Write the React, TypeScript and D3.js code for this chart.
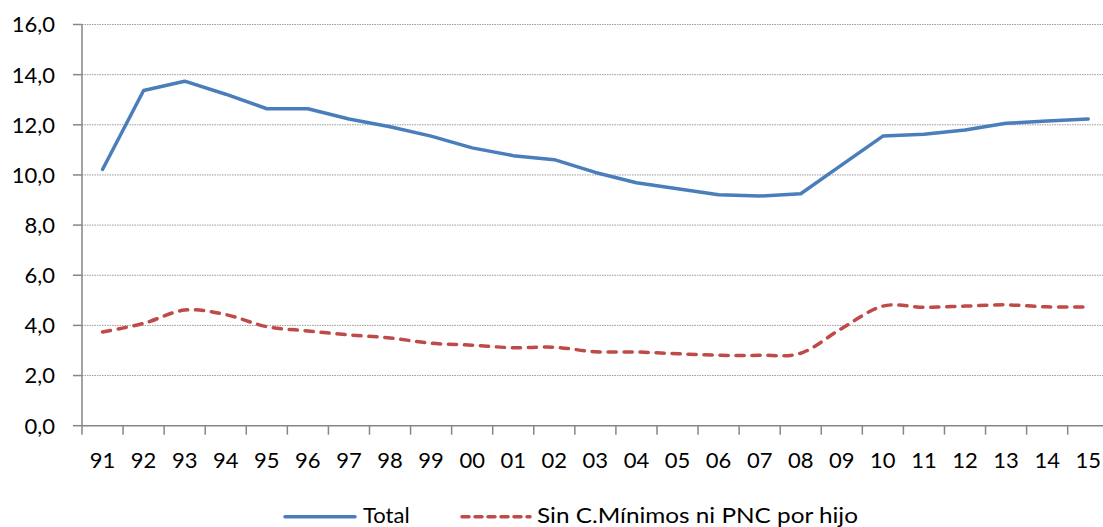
import React from "react";
import * as d3 from "d3";

// Years (two-digit labels) along the category axis
const years = [
  "91", "92", "93", "94", "95", "96", "97", "98", "99", "00", "01", "02", "03",
  "04", "05", "06", "07", "08", "09", "10", "11", "12", "13", "14", "15",
];

// Series values
const total = [
  10.22, 13.37, 13.74, 13.22, 12.64, 12.64, 12.23, 11.92, 11.55, 11.08, 10.77,
  10.61, 10.1, 9.69, 9.45, 9.21, 9.16, 9.25, 10.4, 11.55, 11.62, 11.79, 12.06,
  12.15, 12.23,
];
const sinMinimos = [
  3.74, 4.08, 4.61, 4.43, 3.95, 3.78, 3.62, 3.5, 3.29, 3.21, 3.11, 3.13, 2.95,
  2.94, 2.87, 2.81, 2.81, 2.89, 3.88, 4.77, 4.72, 4.77, 4.82, 4.74, 4.74,
];

// Value-axis ticks
const yTicks = [0, 2, 4, 6, 8, 10, 12, 14, 16];

const seriesNames = ["Total", "Sin C.Mínimos ni PNC por hijo"];

const W = 1103;
const H = 527;
const FONT = "Lato, 'Open Sans', sans-serif";
const BLUE = "#4A7EBB";
const RED = "#BE4B48";
const AXIS = "#868686";

export default function App() {
  const left = 82;
  const bandW = 41.07;
  const x = d3
    .scaleBand<string>()
    .domain(years)
    .range([left, left + bandW * years.length])
    .paddingInner(0)
    .paddingOuter(0);
  const y = d3.scaleLinear().domain([0, 16]).range([425.7, 24.5]);

  const cx = (d: string) => (x(d) as number) + x.bandwidth() / 2;

  const lineStraight = d3
    .line<number>()
    .x((_, i) => cx(years[i]))
    .y((v) => y(v));
  const lineSmooth = d3
    .line<number>()
    .x((_, i) => cx(years[i]))
    .y((v) => y(v))
    .curve(d3.curveCatmullRom.alpha(0));

  const fmt = (v: number) => v.toFixed(1).replace(".", ",");
  const x0 = y(0);
  const boundaries = d3.range(years.length + 1).map((i) => left + i * bandW);

  return (
    <svg
      width={W}
      height={H}
      style={{ position: "absolute", left: 0, top: 0, background: "#fff" }}
      fontFamily={FONT}
    >
      {/* horizontal gridlines */}
      {yTicks
        .filter((t) => t > 0)
        .map((t) => (
          <line
            key={"g" + t}
            x1={left}
            x2={W}
            y1={y(t)}
            y2={y(t)}
            stroke="#9a9a9a"
            strokeWidth={1}
            strokeDasharray="1.5 1"
          />
        ))}

      {/* value axis */}
      <line x1={left} x2={left} y1={y(16)} y2={x0} stroke={AXIS} strokeWidth={1.5} />
      {yTicks.map((t) => (
        <g key={"y" + t}>
          <line x1={left - 9} x2={left} y1={y(t)} y2={y(t)} stroke={AXIS} strokeWidth={1.5} />
          <text
            x={55}
            y={y(t)}
            dy="0.36em"
            textAnchor="end"
            fontSize={22}
            fill="#000"
          >
            {fmt(t)}
          </text>
        </g>
      ))}

      {/* category axis */}
      <line x1={left} x2={W} y1={x0} y2={x0} stroke={AXIS} strokeWidth={1.5} />
      {boundaries.map((bx, i) => (
        <line key={"t" + i} x1={bx} x2={bx} y1={x0} y2={x0 + 9} stroke={AXIS} strokeWidth={1.5} />
      ))}
      {years.map((yr) => (
        <text key={"x" + yr} x={cx(yr)} y={468.3} textAnchor="middle" fontSize={22} fill="#000">
          {yr}
        </text>
      ))}

      {/* series */}
      <path
        d={lineStraight(total) || ""}
        fill="none"
        stroke={BLUE}
        strokeWidth={3.5}
        strokeLinejoin="round"
        strokeLinecap="round"
      />
      <path
        d={lineSmooth(sinMinimos) || ""}
        fill="none"
        stroke={RED}
        strokeWidth={3.5}
        strokeDasharray="8.2 7.8"
        strokeLinecap="round"
      />

      {/* legend */}
      <line x1={285} x2={355} y1={516.7} y2={516.7} stroke={BLUE} strokeWidth={3.5} strokeLinecap="round" />
      <text x={363} y={523.3} fontSize={22} fill="#000">
        {seriesNames[0]}
      </text>
      <line
        x1={462}
        x2={530}
        y1={516.7}
        y2={516.7}
        stroke={RED}
        strokeWidth={3.5}
        strokeDasharray="7 6"
        strokeLinecap="round"
      />
      <text x={537} y={523.3} fontSize={22} fill="#000" textLength={321} lengthAdjust="spacingAndGlyphs">
        {seriesNames[1]}
      </text>
    </svg>
  );
}
